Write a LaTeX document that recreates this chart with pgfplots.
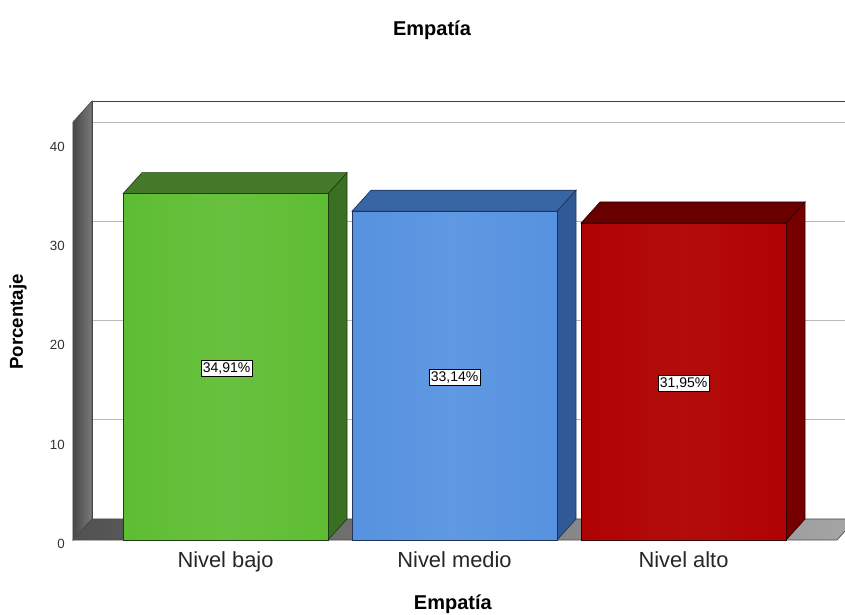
\documentclass[border=0pt]{standalone}
\usepackage{fontspec}
\setmainfont{Liberation Sans}
\usepackage{pgfplots}
\pgfplotsset{compat=1.18}
\definecolor{gfront}{RGB}{94,189,50}
\definecolor{gtop}{RGB}{68,122,42}
\definecolor{gside}{RGB}{58,112,34}
\definecolor{gedge}{RGB}{30,60,20}
\definecolor{bfront}{RGB}{86,146,224}
\definecolor{btop}{RGB}{56,102,165}
\definecolor{bside}{RGB}{48,90,150}
\definecolor{bedge}{RGB}{30,50,90}
\definecolor{rfront}{RGB}{176,2,2}
\definecolor{rtop}{RGB}{104,0,0}
\definecolor{rside}{RGB}{118,0,0}
\definecolor{redge}{RGB}{50,0,0}
\begin{document}
\begin{tikzpicture}
\useasboundingbox (-54.75pt,-55.5pt) rectangle (579pt,405pt);
\begin{axis}[
  at={(0,0)}, anchor=south west,
  scale only axis, width=579pt, height=329.25pt,
  xmin=-0.666, xmax=2.705, ymin=0, ymax=44.25,
  clip=false,
  axis line style={draw=none},
  major tick length=0pt,
  xtick={0,1,2},
  xticklabels={Nivel bajo, Nivel medio, Nivel alto},
  ytick={0,10,20,30,40},
  /pgf/number format/assume math mode=true,
  yticklabel style={font=\fontsize{10}{12}\selectfont, text=black!80, anchor=east, inner sep=0pt, xshift=-6pt, yshift=-2.8pt},
  xticklabel style={font=\fontsize{16.4}{19}\selectfont, text=black!85, anchor=base, inner sep=0pt, yshift=-20.25pt},
  every axis title shift=0pt,
  title={Empatía},
  title style={font=\bfseries\fontsize{15}{18}\selectfont, at={(rel axis cs:0.465,1.1617)}, anchor=center},
  xlabel={Empatía},
  xlabel style={font=\bfseries\fontsize{15}{18}\selectfont, at={(rel axis cs:0.492,-0.147)}, anchor=center},
  ylabel={Porcentaje},
  ylabel style={font=\bfseries\fontsize{14}{17}\selectfont, at={(rel axis cs:-0.0712,0.4966)}, anchor=center, rotate=0},
  no markers,
]
% back wall
\addplot[fill=white, draw=none] coordinates {(-0.583,2.12) (2.8,2.12) (2.8,44.25) (-0.583,44.25)} --cycle;
% grid lines on back wall
\addplot[gray!55, line width=0.6pt] coordinates {(-0.583,12.12) (2.8,12.12)};
\addplot[gray!55, line width=0.6pt] coordinates {(-0.583,22.12) (2.8,22.12)};
\addplot[gray!55, line width=0.6pt] coordinates {(-0.583,32.12) (2.8,32.12)};
\addplot[gray!55, line width=0.6pt] coordinates {(-0.583,42.12) (2.8,42.12)};
% back wall edges
\addplot[black!75, line width=0.7pt] coordinates {(-0.583,2.12) (-0.583,44.25) (2.8,44.25)};
% left wall
\addplot[left color=black!72, right color=black!52, draw=black!70, line width=0.5pt] coordinates {(-0.666,0) (-0.583,2.12) (-0.583,44.25) (-0.666,42.13)} --cycle;
% floor
\addplot[left color=black!68, right color=black!35, draw=black!70, line width=0.5pt] coordinates {(-0.666,0) (2.67,0) (2.753,2.12) (-0.583,2.12)} --cycle;
% ---- bars: side and top faces
\addplot[fill=gside, draw=gedge, line width=0.5pt] coordinates {(0.4475,0) (0.4475,34.91) (0.5305,37.03) (0.5305,2.12)} --cycle;
\addplot[fill=gtop, draw=gedge, line width=0.5pt] coordinates {(-0.4475,34.91) (0.4475,34.91) (0.5305,37.03) (-0.3645,37.03)} --cycle;
\addplot[fill=bside, draw=bedge, line width=0.5pt] coordinates {(1.4475,0) (1.4475,33.14) (1.5305,35.26) (1.5305,2.12)} --cycle;
\addplot[fill=btop, draw=bedge, line width=0.5pt] coordinates {(0.5525,33.14) (1.4475,33.14) (1.5305,35.26) (0.6355,35.26)} --cycle;
\addplot[fill=rside, draw=redge, line width=0.5pt] coordinates {(2.4475,0) (2.4475,31.95) (2.5305,34.07) (2.5305,2.12)} --cycle;
\addplot[fill=rtop, draw=redge, line width=0.5pt] coordinates {(1.5525,31.95) (2.4475,31.95) (2.5305,34.07) (1.6355,34.07)} --cycle;
% ---- bars: front faces
\addplot[ybar, bar width=0.895, bar shift=0pt, left color=gfront, right color=gfront, middle color=gfront!94!white, draw=gedge, line width=0.5pt] coordinates {(0,34.91)};
\addplot[ybar, bar width=0.895, bar shift=0pt, left color=bfront, right color=bfront, middle color=bfront!94!white, draw=bedge, line width=0.5pt] coordinates {(1,33.14)};
\addplot[ybar, bar width=0.895, bar shift=0pt, left color=rfront, right color=rfront, middle color=rfront!96!white, draw=redge, line width=0.5pt] coordinates {(2,31.95)};
% value labels
\node[fill=white, draw=black, line width=0.4pt, inner sep=1.4pt, font=\fontsize{10.5}{12}\selectfont] at (axis cs:0.005,17.3) {34,91\%};
\node[fill=white, draw=black, line width=0.4pt, inner sep=1.4pt, font=\fontsize{10.5}{12}\selectfont] at (axis cs:1.0,16.4) {33,14\%};
\node[fill=white, draw=black, line width=0.4pt, inner sep=1.4pt, font=\fontsize{10.5}{12}\selectfont] at (axis cs:2.0,15.8) {31,95\%};
\end{axis}
\end{tikzpicture}
\end{document}
